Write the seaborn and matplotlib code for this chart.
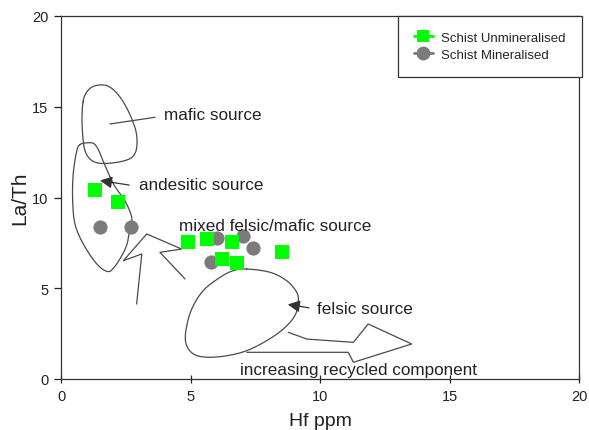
import numpy as np
import pandas as pd
import matplotlib
matplotlib.use("Agg")
import matplotlib.pyplot as plt
import seaborn as sns
from matplotlib.lines import Line2D

# ---- data ----
unmin_hf = [1.31, 2.21, 4.90, 5.64, 6.60, 6.20, 6.80, 8.53]
unmin_lath = [10.41, 9.77, 7.55, 7.71, 7.55, 6.60, 6.40, 7.00]
min_hf = [1.51, 2.70, 6.04, 7.04, 7.42, 5.78]
min_lath = [8.36, 8.39, 7.76, 7.90, 7.24, 6.43]
series_names = ["Schist Unmineralised", "Schist Mineralised"]
x_ticks = [0, 5, 10, 15, 20]
y_ticks = [0, 5, 10, 15, 20]

# ---- annotation outlines (data units) ----
mafic_x = [0.85, 0.97, 1.20, 1.51, 1.81, 2.12, 2.43, 2.70, 2.90, 2.93, 2.82, 2.55, 1.97, 1.43, 1.12, 0.93, 0.85, 0.81]
mafic_y = [15.26, 15.76, 16.09, 16.20, 16.14, 15.81, 15.21, 14.44, 13.61, 12.84, 12.34, 12.07, 11.90, 11.90, 12.12, 12.56, 13.22, 14.33]
andes_x = [0.73, 0.93, 1.24, 1.43, 1.62, 1.96, 2.20, 2.47, 2.73, 2.66, 2.55, 2.34, 2.05, 1.80, 1.38, 0.86, 0.54, 0.45, 0.47, 0.61]
andes_y = [12.91, 13.00, 12.99, 12.67, 12.03, 10.92, 10.36, 9.82, 8.91, 8.26, 7.44, 6.78, 6.15, 5.92, 6.34, 7.44, 8.54, 9.82, 11.29, 12.58]
felsic_x = [7.17, 8.07, 8.71, 9.10, 9.16, 9.03, 8.58, 7.94, 7.17, 6.40, 5.63, 5.11, 4.83, 4.83, 5.05, 5.49, 6.14, 6.65]
felsic_y = [6.06, 5.88, 5.42, 4.78, 4.23, 3.49, 2.75, 2.11, 1.56, 1.28, 1.20, 1.38, 1.93, 2.75, 3.86, 4.87, 5.60, 5.97]
arrow1_x = [2.92, 3.12, 2.41, 3.31, 4.66, 3.82, 4.79]
arrow1_y = [4.13, 6.89, 6.52, 7.99, 7.16, 6.98, 5.51]
arrow2_x = [8.78, 9.49, 11.29, 11.86, 13.54, 11.29, 11.09, 7.17]
arrow2_y = [2.57, 2.20, 2.02, 3.03, 1.93, 0.92, 1.47, 1.47]


def smooth_closed(xs, ys, n=12):
    p = np.column_stack([xs, ys])
    m = len(p)
    out = []
    for i in range(m):
        p0, p1, p2, p3 = p[(i - 1) % m], p[i], p[(i + 1) % m], p[(i + 2) % m]
        for t in np.linspace(0, 1, n, endpoint=False):
            t2, t3 = t * t, t * t * t
            out.append(0.5 * ((2 * p1) + (-p0 + p2) * t + (2 * p0 - 5 * p1 + 4 * p2 - p3) * t2
                              + (-p0 + 3 * p1 - 3 * p2 + p3) * t3))
    out.append(out[0])
    out = np.array(out)
    return out[:, 0], out[:, 1]


sns.set_theme(style="ticks")
plt.rcParams["font.family"] = ["Liberation Sans", "DejaVu Sans"]

fig = plt.figure(figsize=(5.89, 4.31), dpi=100)
ax = fig.add_axes([61 / 589, 1 - 380 / 431, 518 / 589, 363 / 431])

df_min = pd.DataFrame({"Hf": min_hf, "LaTh": min_lath})
df_un = pd.DataFrame({"Hf": unmin_hf, "LaTh": unmin_lath})

line_col = "#4a4a4a"
lw = 0.9
for xs, ys in [(mafic_x, mafic_y), (andes_x, andes_y), (felsic_x, felsic_y)]:
    sx, sy = smooth_closed(xs, ys)
    ax.plot(sx, sy, color=line_col, lw=lw, zorder=1)
ax.plot(arrow1_x, arrow1_y, color=line_col, lw=lw, zorder=1)
ax.plot(arrow2_x, arrow2_y, color=line_col, lw=lw, zorder=1)

sns.scatterplot(data=df_min, x="Hf", y="LaTh", ax=ax, marker="o", color="#7b7b7b",
                s=105, linewidth=0, zorder=3)
sns.scatterplot(data=df_un, x="Hf", y="LaTh", ax=ax, marker="s", color="#00ff00",
                s=88, linewidth=0, zorder=4)

# leader lines / arrows
ax.plot([1.89, 3.63], [14.05, 14.42], color=line_col, lw=lw)
arrowprops = dict(arrowstyle="-|>,head_length=0.6,head_width=0.3", color="#333333", lw=0.9)
ax.annotate("", xy=(1.40, 10.96), xytext=(2.74, 10.66), arrowprops=arrowprops)
ax.annotate("", xy=(8.65, 4.13), xytext=(9.68, 3.90), arrowprops=arrowprops)

tfs = 12.3
tc = "#222222"
ax.text(3.96, 14.60, "mafic source", fontsize=tfs, color=tc, va="center", ha="left")
ax.text(3.01, 10.74, "andesitic source", fontsize=tfs, color=tc, va="center", ha="left")
ax.text(4.57, 8.45, "mixed felsic/mafic source", fontsize=tfs, color=tc, va="center", ha="left")
ax.text(9.87, 3.86, "felsic source", fontsize=tfs, color=tc, va="center", ha="left")
ax.text(6.91, 0.55, "increasing recycled component", fontsize=tfs, color=tc, va="center", ha="left")

ax.set_xlim(0, 20)
ax.set_ylim(0, 20)
ax.set_xticks(x_ticks)
ax.set_yticks(y_ticks)
ax.set_xticklabels([str(v) for v in x_ticks])
ax.set_yticklabels([str(v) for v in y_ticks])
ax.tick_params(axis="x", direction="inout", length=6, width=0.9, labelsize=10.5, colors="#222222", pad=4)
ax.tick_params(axis="y", direction="out", length=5, width=0.9, labelsize=10.5, colors="#222222", pad=4)
for sp in ax.spines.values():
    sp.set_visible(True)
    sp.set_color("#333333")
    sp.set_linewidth(0.9)

ax.set_xlabel("Hf ppm", fontsize=14, color="#222222", labelpad=6.5)
ax.set_ylabel("La/Th", fontsize=15, color="#222222", labelpad=2)

handles = [
    Line2D([0], [0], color="#00ff00", lw=2, marker="s", markersize=9, markeredgewidth=0),
    Line2D([0], [0], color="#7b7b7b", lw=2, marker="o", markersize=10, markeredgewidth=0),
]
leg = ax.legend(handles, series_names, loc="upper right", bbox_to_anchor=(1.005, 1.0),
                borderaxespad=0, fontsize=9.5, frameon=True, fancybox=False,
                edgecolor="#333333", framealpha=1, borderpad=1.2, labelspacing=0.35,
                handlelength=1.5, handletextpad=0.6)
leg.get_frame().set_linewidth(0.9)

fig.savefig("out.png", dpi=100)
